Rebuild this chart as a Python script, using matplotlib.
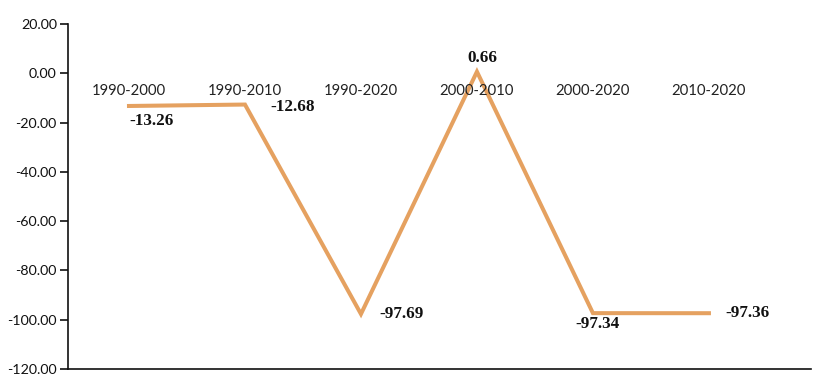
import matplotlib.pyplot as plt

periods = ["1990-2000", "1990-2010", "1990-2020", "2000-2010", "2000-2020", "2010-2020"]
changes = [-13.26, -12.68, -97.69, 0.66, -97.34, -97.36]
y_ticks = [20, 0, -20, -40, -60, -80, -100, -120]

# label offsets in points (dx, dy) and horizontal alignment, per point
label_offsets = [(0, -11, "left"), (18, -2, "left"), (13, 0, "left"),
                 (4, 10, "center"), (3, -8, "center"), (12, 0, "left")]

fig = plt.figure(figsize=(8.21, 3.85), dpi=100)
ax = fig.add_axes([0.0828, 0.0416, 0.905, 0.896])

x = list(range(len(periods)))
ax.plot(x, changes, color="#e5a160", linewidth=2.9, solid_joinstyle="miter")

for i, (name, val) in enumerate(zip(periods, changes)):
    ax.text(i, -7, name, ha="center", va="center", fontsize=10.7,
            family="Lato", color="#222222")
    dx, dy, ha = label_offsets[i]
    ax.annotate(f"{val:.2f}", (i, val), xytext=(dx, dy), textcoords="offset points",
                ha=ha, va="center", fontsize=12.3, fontweight="bold",
                family="Liberation Serif", color="#111111")

ax.set_xlim(-0.526, 5.88)
ax.set_ylim(-120, 20)
ax.set_yticks(y_ticks)
ax.set_yticklabels([f"{v:.2f}" for v in y_ticks], family="Lato", fontsize=10.3)
ax.set_xticks([])
ax.tick_params(axis="y", length=6, width=1.2, pad=2, colors="#111111")
for s in ["top", "right"]:
    ax.spines[s].set_visible(False)
for s in ["left", "bottom"]:
    ax.spines[s].set_linewidth(1.2)
    ax.spines[s].set_color("#111111")

fig.savefig("out.png", dpi=100)
